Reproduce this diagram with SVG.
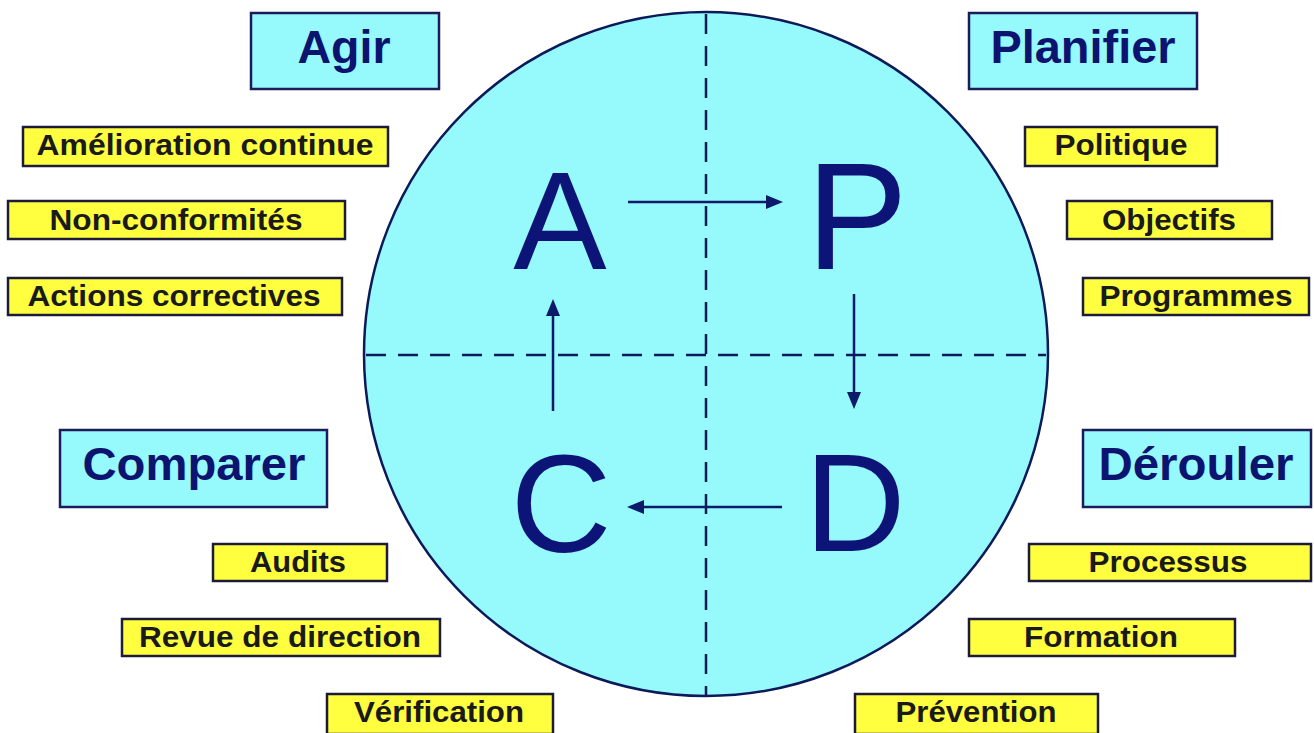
<svg xmlns="http://www.w3.org/2000/svg" width="1314" height="733" viewBox="0 0 1314 733">
<style>
.hd{fill:#96f9fc;stroke:#1c1c5a;stroke-width:2.5}
.yb{fill:#ffff40;stroke:#1c1c3a;stroke-width:2.5}
.ht{font-family:"Liberation Sans",Arial,sans-serif;font-weight:bold;font-size:46px;fill:#0d1470;text-anchor:middle}
.yt{font-family:"Liberation Sans",Arial,sans-serif;font-weight:bold;font-size:29px;fill:#1a1a1a;text-anchor:middle}
.big{font-family:"Liberation Sans",Arial,sans-serif;font-size:140px;fill:#0d1478;text-anchor:middle}
.dash{stroke:#0d1a5a;stroke-width:2.5;stroke-dasharray:20 12;fill:none}
.ln{stroke:#0d1a6a;stroke-width:2.5;fill:none}
.hd2{fill:#0d1a6a}
</style>
<rect width="1314" height="733" fill="#ffffff"/>
<g id="circle">
<circle cx="706" cy="354" r="342" fill="#96f9fc" stroke="#0d1a5a" stroke-width="2.5"/>
<line class="dash" x1="706" y1="14" x2="706" y2="696"/>
<line class="dash" x1="366" y1="355" x2="1046" y2="355"/>
</g>
<g id="letter-A"><text class="big" x="560" y="269">A</text></g>
<g id="letter-P"><text class="big" x="857" y="269" style="font-size:152px">P</text></g>
<g id="letter-C"><text class="big" x="561" y="552">C</text></g>
<g id="letter-D"><text class="big" x="855" y="551">D</text></g>
<g id="connectors">
<line class="ln" x1="628" y1="202" x2="768" y2="202"/>
<path class="hd2" d="M766,195 L783,202 L766,209 z"/>
<line class="ln" x1="854" y1="294" x2="854" y2="394"/>
<path class="hd2" d="M847,392 L854,409 L861,392 z"/>
<line class="ln" x1="782" y1="507" x2="642" y2="507"/>
<path class="hd2" d="M644,500 L627,507 L644,514 z"/>
<line class="ln" x1="553" y1="411" x2="553" y2="314"/>
<path class="hd2" d="M546,316 L553,299 L560,316 z"/>
</g>
<g id="agir"><rect class="hd" x="251" y="13" width="188" height="76"/><text class="ht" x="344" y="63" textLength="93" lengthAdjust="spacingAndGlyphs">Agir</text></g>
<g id="planifier"><rect class="hd" x="969" y="13" width="228" height="76"/><text class="ht" x="1083" y="63" textLength="185" lengthAdjust="spacingAndGlyphs">Planifier</text></g>
<g id="comparer"><rect class="hd" x="60" y="430" width="267" height="77"/><text class="ht" x="194" y="480" textLength="223" lengthAdjust="spacingAndGlyphs">Comparer</text></g>
<g id="derouler"><rect class="hd" x="1083" y="430" width="228" height="77"/><text class="ht" x="1196" y="480" textLength="195" lengthAdjust="spacingAndGlyphs">Dérouler</text></g>
<g id="amelioration"><rect class="yb" x="23" y="127" width="365" height="39"/><text class="yt" x="205" y="155" textLength="337" lengthAdjust="spacingAndGlyphs">Amélioration continue</text></g>
<g id="nonconf"><rect class="yb" x="8" y="201" width="337" height="38"/><text class="yt" x="176" y="230" textLength="253" lengthAdjust="spacingAndGlyphs">Non-conformités</text></g>
<g id="actions"><rect class="yb" x="8" y="278" width="334" height="37"/><text class="yt" x="174" y="306" textLength="293" lengthAdjust="spacingAndGlyphs">Actions correctives</text></g>
<g id="politique"><rect class="yb" x="1025" y="127" width="192" height="39"/><text class="yt" x="1121" y="155" textLength="133" lengthAdjust="spacingAndGlyphs">Politique</text></g>
<g id="objectifs"><rect class="yb" x="1067" y="201" width="205" height="38"/><text class="yt" x="1169" y="230" textLength="134" lengthAdjust="spacingAndGlyphs">Objectifs</text></g>
<g id="programmes"><rect class="yb" x="1083" y="278" width="226" height="37"/><text class="yt" x="1196" y="306" textLength="193" lengthAdjust="spacingAndGlyphs">Programmes</text></g>
<g id="audits"><rect class="yb" x="213" y="544" width="174" height="37"/><text class="yt" x="298" y="572" textLength="96" lengthAdjust="spacingAndGlyphs">Audits</text></g>
<g id="revue"><rect class="yb" x="122" y="619" width="318" height="37"/><text class="yt" x="280" y="647" textLength="282" lengthAdjust="spacingAndGlyphs">Revue de direction</text></g>
<g id="verification"><rect class="yb" x="327" y="694" width="226" height="40"/><text class="yt" x="439" y="722" textLength="170" lengthAdjust="spacingAndGlyphs">Vérification</text></g>
<g id="processus"><rect class="yb" x="1029" y="544" width="282" height="37"/><text class="yt" x="1168" y="572" textLength="159" lengthAdjust="spacingAndGlyphs">Processus</text></g>
<g id="formation"><rect class="yb" x="969" y="619" width="266" height="37"/><text class="yt" x="1101" y="647" textLength="154" lengthAdjust="spacingAndGlyphs">Formation</text></g>
<g id="prevention"><rect class="yb" x="855" y="694" width="243" height="40"/><text class="yt" x="976" y="722" textLength="161" lengthAdjust="spacingAndGlyphs">Prévention</text></g>
</svg>
